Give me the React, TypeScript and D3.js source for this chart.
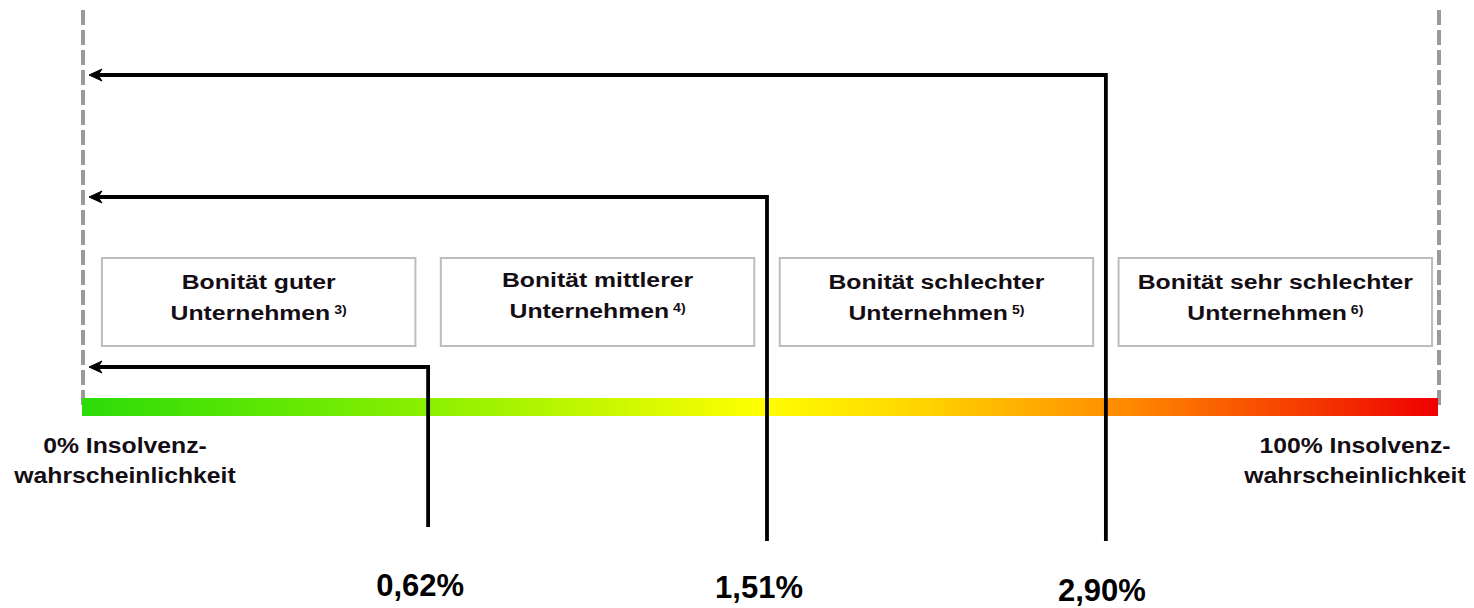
import React from 'react';
import * as d3 from 'd3';

// categories shown in the boxes above the scale
const boxLines1 = ['Bonität guter', 'Bonität mittlerer', 'Bonität schlechter', 'Bonität sehr schlechter'];
const boxLines2 = ['Unternehmen', 'Unternehmen', 'Unternehmen', 'Unternehmen'];
const footnotes = ['3)', '4)', '5)', '6)'];

// insolvency rates marked by the arrows
const rates = [0.62, 1.51, 2.9];
const rateLabels = ['0,62%', '1,51%', '2,90%'];

const endLabelsLeft = ['0% Insolvenz-', 'wahrscheinlichkeit'];
const endLabelsRight = ['100% Insolvenz-', 'wahrscheinlichkeit'];

const gradientStops = [
  { offset: 0, color: '#2bdc08' },
  { offset: 0.26, color: '#8cf000' },
  { offset: 0.5, color: '#ffff00' },
  { offset: 0.62, color: '#ffd400' },
  { offset: 0.77, color: '#ff8a00' },
  { offset: 1, color: '#ee0000' },
];

const W = 1474;
const H = 608;
const FONT = '"Liberation Sans", Arial, sans-serif';

// layout
const scaleLeft = 82;
const scaleRight = 1438;
const barTop = 398;
const barH = 18;
const boxTop = 258;
const boxH = 88;
const arrowLevels = [367, 197, 75];
const arrowBottoms = [527, 541, 541];
const labelBaselines = [596, 598, 601];
const arrowTip = 89;

const App = () => {
  const x = d3.scaleBand<string>()
    .domain(boxLines1)
    .range([85, 1449])
    .paddingInner(0.075)
    .paddingOuter(0.05);

  const bw = x.bandwidth();
  const gap = x.step() - bw;
  // arrows sit in the gaps between the category boxes
  const arrowX = rates.map((_, i) => (x(boxLines1[i]) as number) + bw + gap / 2);

  const line = d3.line<[number, number]>();

  return (
    <svg width={W} height={H} style={{ position: 'absolute', left: 0, top: 0, background: '#fff' }}>
      <defs>
        <linearGradient id="risk" x1="0" x2="1" y1="0" y2="0">
          {gradientStops.map((s, i) => (
            <stop key={i} offset={s.offset} stopColor={s.color} />
          ))}
        </linearGradient>
      </defs>

      {/* dashed limits */}
      {[scaleLeft + 1, scaleRight + 1].map((lx, i) => (
        <line key={i} x1={lx} x2={lx} y1={10} y2={406} stroke="#9a9a9a" strokeWidth={4} strokeDasharray="15,5" />
      ))}

      {/* boxes */}
      {boxLines1.map((b, i) => {
        const bx = x(b) as number;
        const cx = bx + bw / 2;
        const dy = i === 1 ? -2 : 0;
        return (
          <g key={b}>
            <rect x={bx} y={boxTop} width={bw} height={boxH} fill="#fff" stroke="#bdbdbd" strokeWidth={2} />
            <g transform={`translate(${cx},${289 + dy}) scale(1.18,1)`}>
              <text textAnchor="middle" fontFamily={FONT} fontWeight="bold" fontSize={21} fill="#140d14">{b}</text>
            </g>
            <g transform={`translate(${cx},${320 + dy}) scale(1.18,1)`}>
              <text textAnchor="middle" fontFamily={FONT} fontWeight="bold" fontSize={21} fill="#140d14">
                {boxLines2[i]}
                <tspan fontSize={12} dy={-6}>{' ' + footnotes[i]}</tspan>
              </text>
            </g>
          </g>
        );
      })}

      {/* colour bar */}
      <rect x={scaleLeft} y={barTop} width={scaleRight - scaleLeft} height={barH} fill="url(#risk)" />

      {/* arrows */}
      {rates.map((r, i) => {
        const ax = arrowX[i];
        const ly = arrowLevels[i];
        const pts: [number, number][] = [[ax, arrowBottoms[i]], [ax, ly], [arrowTip + 8, ly]];
        return (
          <g key={r}>
            <path d={line(pts) as string} fill="none" stroke="#000" strokeWidth={3.8} />
            <path
              d={`M${arrowTip},${ly} L${arrowTip + 13},${ly - 6} L${arrowTip + 9},${ly} L${arrowTip + 13},${ly + 6} Z`}
              fill="#000"
              stroke="#000"
              strokeWidth={1}
              strokeLinejoin="round"
            />
            <text
              x={ax - 8 + (i === 2 ? 4 : 0)}
              y={labelBaselines[i]}
              textAnchor="middle"
              fontFamily={FONT}
              fontWeight="bold"
              fontSize={31}
              fill="#000"
            >
              {rateLabels[i]}
            </text>
          </g>
        );
      })}

      {/* end labels */}
      {[{ lines: endLabelsLeft, cx: 125 }, { lines: endLabelsRight, cx: 1355 }].map((g, gi) => (
        <g key={gi}>
          {g.lines.map((t, li) => (
            <g key={li} transform={`translate(${g.cx},${453 + li * 30}) scale(1.1,1)`}>
              <text textAnchor="middle" fontFamily={FONT} fontWeight="bold" fontSize={22.5} fill="#140d14">{t}</text>
            </g>
          ))}
        </g>
      ))}
    </svg>
  );
};

export default App;
